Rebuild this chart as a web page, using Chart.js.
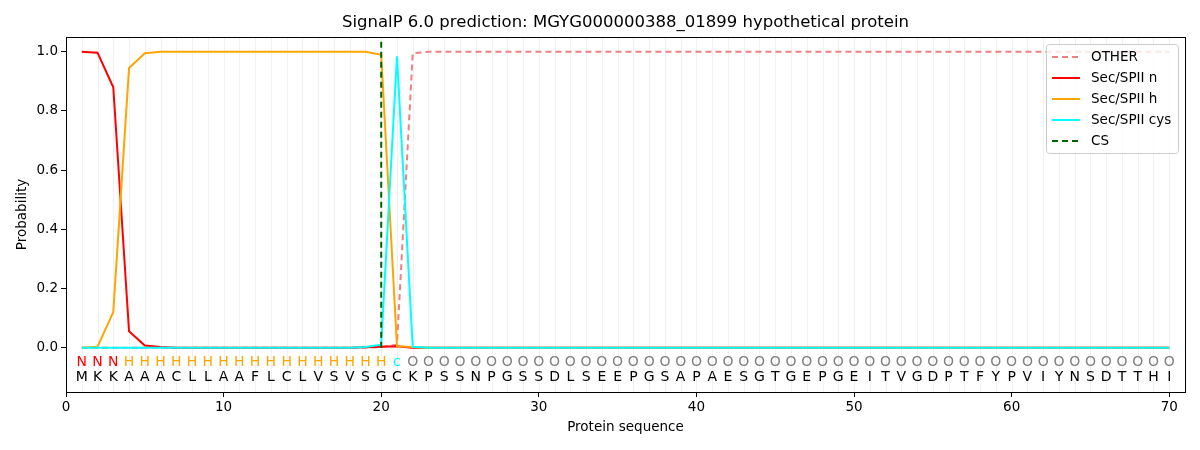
<!DOCTYPE html>
<html>
<head>
<meta charset="utf-8">
<script src="https://cdn.jsdelivr.net/npm/chart.js@4.4.0/dist/chart.umd.min.js"></script>
<style>
  html, body { margin: 0; padding: 0; background: #fff; }
  #wrap { width: 1200px; height: 450px; }
</style>
</head>
<body>
<div id="wrap"><canvas id="myChart" width="1200" height="450"></canvas></div>
<script>
// sequence and per-residue labels
const sequence = "MKKAAACLLAAFLCLVSVSGCKPSSNPGSSDLSEEPGSAPAESGTGEPGEITVGDPTFYPVIYNSDTTHI".split("")
const regionLabels = "NNNHHHHHHHHHHHHHHHHHcOOOOOOOOOOOOOOOOOOOOOOOOOOOOOOOOOOOOOOOOOOOOOOOOO".split("")
const positions = sequence.map((s, i) => i + 1)

// probabilities (positions 1..70)
const otherProb = [0,0,0,0,0,0,0,0,0,0, 0,0,0,0,0,0,0,0,0,0.002, 0.01,0.995,1,1,1,1,1,1,1,1,
  1,1,1,1,1,1,1,1,1,1, 1,1,1,1,1,1,1,1,1,1, 1,1,1,1,1,1,1,1,1,1, 1,1,1,1,1,1,1,1,1,1]
const nProb = [1.0,0.997,0.88,0.055,0.007,0.002,0,0,0,0, 0,0,0,0,0,0,0,0,0.001,0.003, 0.005,0,0,0,0,0,0,0,0,0,
  0,0,0,0,0,0,0,0,0,0, 0,0,0,0,0,0,0,0,0,0, 0,0,0,0,0,0,0,0,0,0, 0,0,0,0,0,0,0,0,0,0]
const hProb = [0,0.003,0.12,0.945,0.995,1,1,1,1,1, 1,1,1,1,1,1,1,1,1,0.99, 0.005,0.002,0,0,0,0,0,0,0,0,
  0,0,0,0,0,0,0,0,0,0, 0,0,0,0,0,0,0,0,0,0, 0,0,0,0,0,0,0,0,0,0, 0,0,0,0,0,0,0,0,0,0]
const cysProb = [0,0,0,0,0,0,0,0,0,0, 0,0,0,0,0,0,0,0,0.002,0.01, 0.985,0.003,0,0,0,0,0,0,0,0,
  0,0,0,0,0,0,0,0,0,0, 0,0,0,0,0,0,0,0,0,0, 0,0,0,0,0,0,0,0,0,0, 0,0,0,0,0,0,0,0,0,0]
const csX = [20, 20]
const csY = [0, 1.04]

const xTicks = [0, 10, 20, 30, 40, 50, 60, 70]
const yTicks = [0, 0.2, 0.4, 0.6, 0.8, 1.0]

const labelColors = { N: "red", H: "orange", c: "cyan", O: "gray" }

const toPoints = (xs, ys) => ys.map((y, i) => ({ x: xs[i], y: y }))

const font = "DejaVu Sans"
Chart.defaults.font.family = font
Chart.defaults.font.size = 13.5
Chart.defaults.color = "#000"

const decor = {
  id: "decor",
  beforeDatasetsDraw(chart) {
    const ctx = chart.ctx
    const xs = chart.scales.x
    const a = chart.chartArea
    ctx.save()
    ctx.strokeStyle = "rgba(0,0,0,0.06)"
    ctx.lineWidth = 1
    positions.forEach((p) => {
      const px = Math.round(xs.getPixelForValue(p)) + 0.5
      ctx.beginPath()
      ctx.moveTo(px, a.top)
      ctx.lineTo(px, a.bottom)
      ctx.stroke()
    })
    ctx.restore()
  },
  afterDraw(chart) {
    const ctx = chart.ctx
    const xs = chart.scales.x
    const ys = chart.scales.y
    const a = chart.chartArea
    ctx.save()

    // residue letters and region labels
    ctx.font = "14px '" + font + "'"
    ctx.textAlign = "center"
    ctx.textBaseline = "middle"
    positions.forEach((p, i) => {
      const px = xs.getPixelForValue(p)
      ctx.fillStyle = labelColors[regionLabels[i]]
      ctx.fillText(regionLabels[i], px, ys.getPixelForValue(-0.05))
      ctx.fillStyle = "#000"
      ctx.fillText(sequence[i], px, ys.getPixelForValue(-0.1))
    })

    // box
    ctx.strokeStyle = "#000"
    ctx.lineWidth = 1
    ctx.strokeRect(Math.round(a.left) + 0.5, Math.round(a.top) + 0.5, Math.round(a.right - a.left), Math.round(a.bottom - a.top))

    // title and axis titles
    ctx.fillStyle = "#000"
    ctx.font = "16.5px '" + font + "'"
    ctx.fillText("SignalP 6.0 prediction: MGYG000000388_01899 hypothetical protein", (a.left + a.right) / 2, 23)
    ctx.font = "13.5px '" + font + "'"
    ctx.fillText("Protein sequence", (a.left + a.right) / 2, 427)
    ctx.translate(22, (a.top + a.bottom) / 2)
    ctx.rotate(-Math.PI / 2)
    ctx.fillText("Probability", 0, 0)
    ctx.setTransform(1, 0, 0, 1, 0, 0)

    // legend
    const lx = 1046, ly = 44, lw = 132, lh = 109
    ctx.fillStyle = "rgba(255,255,255,0.8)"
    ctx.strokeStyle = "#ccc"
    ctx.beginPath()
    ctx.roundRect(lx + 0.5, ly + 0.5, lw, lh, 3)
    ctx.fill()
    ctx.stroke()
    ctx.textAlign = "left"
    chart.data.datasets.forEach((ds, i) => {
      const yy = ly + 13 + i * 21
      ctx.strokeStyle = ds.borderColor
      ctx.lineWidth = 2
      ctx.setLineDash(ds.borderDash || [])
      ctx.beginPath()
      ctx.moveTo(lx + 6, yy)
      ctx.lineTo(lx + 34, yy)
      ctx.stroke()
      ctx.setLineDash([])
      ctx.fillStyle = "#000"
      ctx.fillText(ds.label, lx + 45, yy)
    })
    ctx.restore()
  }
}

new Chart(document.getElementById("myChart"), {
  type: "line",
  data: {
    datasets: [
      { label: "OTHER", data: toPoints(positions, otherProb), borderColor: "lightcoral", borderDash: [6, 4] },
      { label: "Sec/SPII n", data: toPoints(positions, nProb), borderColor: "red" },
      { label: "Sec/SPII h", data: toPoints(positions, hProb), borderColor: "orange" },
      { label: "Sec/SPII cys", data: toPoints(positions, cysProb), borderColor: "cyan" },
      { label: "CS", data: toPoints(csX, csY), borderColor: "darkgreen", borderDash: [6, 4] }
    ].map((d, i) => Object.assign(d, { borderWidth: 2, pointRadius: 0, tension: 0, fill: false, order: 5 - i }))
  },
  options: {
    responsive: false,
    animation: false,
    layout: { padding: { top: 37, right: 15, left: 0, bottom: 0 } },
    plugins: { legend: { display: false }, title: { display: false }, tooltip: { enabled: false } },
    scales: {
      x: {
        type: "linear", min: 0, max: 71,
        afterBuildTicks: (s) => { s.ticks = xTicks.map((v) => ({ value: v })) },
        afterFit: (s) => { s.height = 58 },
        ticks: { padding: 2, maxRotation: 0, autoSkip: false },
        grid: { drawOnChartArea: false, tickLength: 5, color: "#000" },
        border: { display: true, color: "#000" }
      },
      y: {
        type: "linear", min: -0.15, max: 1.05,
        afterBuildTicks: (s) => { s.ticks = yTicks.map((v) => ({ value: v })) },
        afterFit: (s) => { s.width = 66 },
        ticks: { padding: 3, callback: (v) => v.toFixed(1) },
        grid: { drawOnChartArea: false, tickLength: 5, color: "#000" },
        border: { display: true, color: "#000" }
      }
    }
  },
  plugins: [decor]
})
</script>
</body>
</html>
